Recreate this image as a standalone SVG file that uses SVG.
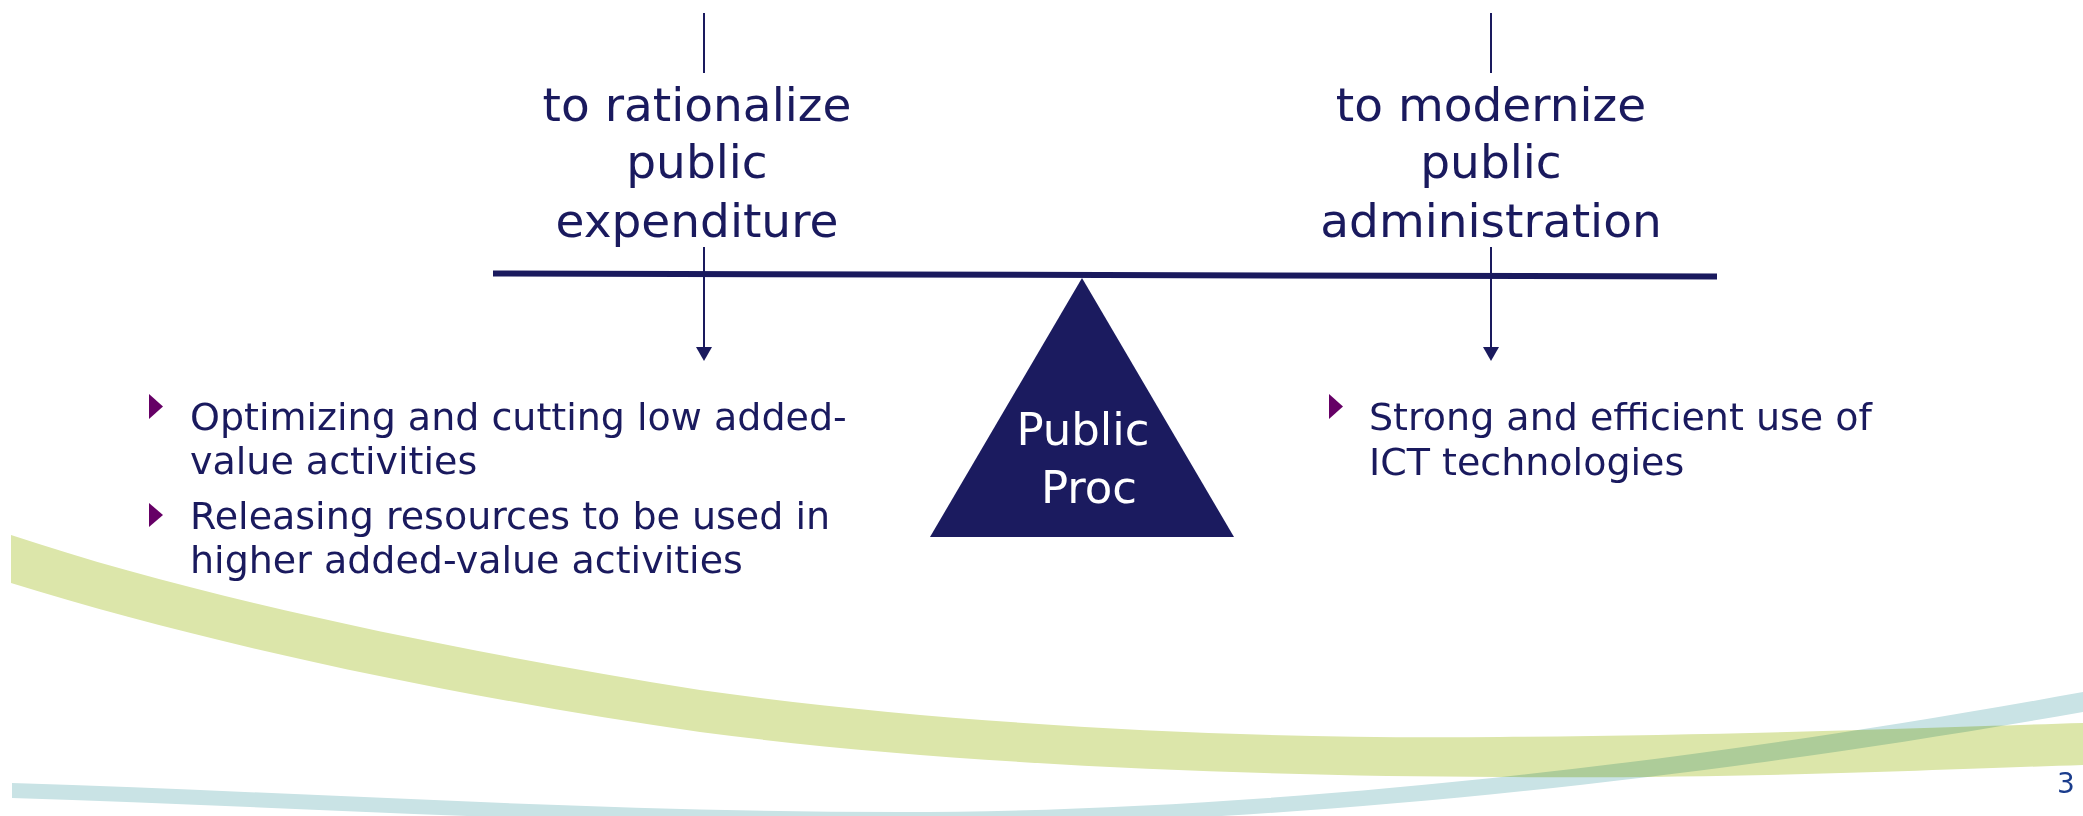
<svg xmlns="http://www.w3.org/2000/svg" width="2083" height="816" viewBox="0 0 2083 816">
<style>
.t{font-family:"DejaVu Sans","Verdana",sans-serif;fill:#1a1a5e}
.h{font-size:47px;text-anchor:middle}
.b{font-size:38px}
.w{font-family:"DejaVu Sans",sans-serif;fill:#ffffff;font-size:45px;text-anchor:middle}
.ln{stroke:#1a1a5e;stroke-width:2;fill:none}
.bul{fill:#660066}
</style>
<defs>
<marker id="ah" markerUnits="userSpaceOnUse" markerWidth="16" markerHeight="14" refX="8" refY="14" orient="auto-start-reverse" viewBox="0 0 16 14">
<path d="M0,0 L16,0 L8,14 Z" fill="#1a1a5e" transform="rotate(-90 8 7)"/>
</marker>
</defs>
<rect width="2083" height="816" fill="#ffffff"/>
<g id="background-swooshes">
<path d="M11,535 C200,598 450,650 700,690 C950,725 1250,740 1500,737 C1750,735 1950,727 2083,723 L2083,765 C1950,769 1750,779 1500,777 C1250,776 950,765 700,732 C450,696 200,642 11,583 Z" fill="#dce6aa"/>
<path d="M12,783 C300,792 600,812 900,812 C1200,812 1600,780 2083,692 L2083,712 C1600,797 1200,826 900,826 C600,826 300,807 12,798 Z" fill="#c9e3e5" style="mix-blend-mode:multiply"/>
</g>
<g id="connectors">
<line class="ln" x1="704" y1="13" x2="704" y2="73"/>
<line class="ln" x1="1491" y1="13" x2="1491" y2="73"/>
<line class="ln" x1="704" y1="247" x2="704" y2="347"/>
<path d="M696,347 L712,347 L704,361 Z" fill="#1a1a5e"/>
<line class="ln" x1="1491" y1="247" x2="1491" y2="347"/>
<path d="M1483,347 L1499,347 L1491,361 Z" fill="#1a1a5e"/>
</g>
<g id="beam">
<line x1="493" y1="273.5" x2="1717" y2="276.5" stroke="#1a1a5e" stroke-width="6"/>
</g>
<g id="heading-left">
<text class="t h" x="697" y="121">to rationalize</text>
<text class="t h" x="697" y="178">public</text>
<text class="t h" x="697" y="237">expenditure</text>
</g>
<g id="heading-right">
<text class="t h" x="1491" y="121">to modernize</text>
<text class="t h" x="1491" y="178">public</text>
<text class="t h" x="1491" y="237">administration</text>
</g>
<g id="fulcrum">
<path d="M1082,278 L1234,537 L930,537 Z" fill="#1b1b5f"/>
<text class="w" x="1083" y="445">Public</text>
<text class="w" x="1089" y="503">Proc</text>
</g>
<g id="bullets-left">
<path class="bul" d="M149,394 L163,406.5 L149,419 Z"/>
<text class="t b" x="190" y="430">Optimizing and cutting low added-</text>
<text class="t b" x="190" y="474">value activities</text>
<path class="bul" d="M149,503 L163,515 L149,527 Z"/>
<text class="t b" x="190" y="529">Releasing resources to be used in</text>
<text class="t b" x="190" y="573">higher added-value activities</text>
</g>
<g id="bullets-right">
<path class="bul" d="M1329,394 L1343,406.5 L1329,419 Z"/>
<text class="t b" x="1369" y="430">Strong and efficient use of</text>
<text class="t b" x="1369" y="475">ICT technologies</text>
</g>
<g id="page-number">
<text x="2057" y="793" font-family="DejaVu Sans,sans-serif" font-size="28" fill="#1a3c8c">3</text>
</g>
</svg>
